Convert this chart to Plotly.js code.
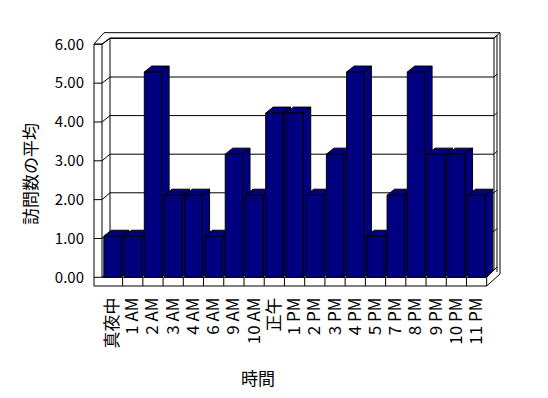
<!DOCTYPE html>
<html>
<head>
<meta charset="utf-8">
<script src="https://cdn.plot.ly/plotly-3.0.1.min.js"></script>
<style>html,body{margin:0;padding:0;background:#fff;}#chart{width:548px;height:398px;}</style>
</head>
<body>
<div id="chart"></div>
<script>
// ---- data ----
const categories = ['真夜中','1 AM','2 AM','3 AM','4 AM','6 AM','9 AM','10 AM','正午','1 PM','2 PM','3 PM','4 PM','5 PM','7 PM','8 PM','9 PM','10 PM','11 PM'];
const avgVisits = [1,1,5,2,2,1,3,2,4,4,2,3,5,1,2,5,3,3,2];
const yTicks = [0,1,2,3,4,5,6];
const yTitle = '訪問数の平均';
const xTitle = '時間';

// ---- geometry / style ----
const W = 548, H = 398;
const L = 94, R = 500, T = 30, B = 287;           // plot area in pixels
const FONT = '"Noto Sans CJK JP", "Noto Sans", sans-serif';
const NAVY = '#000080';
const xRange = [-0.9145, 19.155];
const frontZero = 277.3, frontScale = 38.83;      // tick label axis (px/unit)
const barScale = 41.05;                           // bar front faces (px/unit)
const backZero = 270, backScale = 38.6;           // back wall gridlines
const tickRange = [(frontZero - B) / frontScale, (frontZero - T) / frontScale];
const barRange = [(frontZero - B) / barScale, (frontZero - T) / barScale];
const barWidth = 0.855;
const depthX = 7.5 / ((R - L) / (xRange[1] - xRange[0]));
const depthY = 6 / barScale;

const px = x => (x - L) / (R - L);
const py = y => (B - y) / (B - T);
const line = (x0, y0, x1, y1) => ({type: 'line', xref: 'paper', yref: 'paper', layer: 'below',
  x0: px(x0), y0: py(y0), x1: px(x1), y1: py(y1), line: {color: '#000', width: 1}});

const shapes = [];
// back wall gridlines & left wall ticks
yTicks.forEach(v => {
  const yf = frontZero - frontScale * v, yb = backZero - backScale * v;
  shapes.push(line(94, yf, 102, yf));
  shapes.push(line(102, yf, 110, yb));
  shapes.push(line(110, yb, 494, yb));
  shapes.push(line(494, yb, 497, yb - 3));
});
// walls
shapes.push(line(94, 44, 94, 286));
shapes.push(line(102, 44, 102, frontZero));
shapes.push(line(94, 44, 102, 44));
shapes.push(line(94, 44, 104, 32.7));
shapes.push(line(102, 44, 110, 38));
shapes.push(line(104, 32.7, 500, 32.7));
shapes.push(line(110, 38, 494, 38));
shapes.push(line(110, 38, 110, 270));
shapes.push(line(494, 38, 494, 270));
shapes.push(line(494, 38, 500, 32.7));
shapes.push(line(497, 35.5, 497, 272));
shapes.push(line(500, 32.7, 500, 274));
// floor
shapes.push(line(102, frontZero, 486.7, frontZero));
shapes.push(line(94, 286, 486.7, 286));
shapes.push(line(486.7, frontZero, 486.7, 286));
shapes.push(line(486.7, frontZero, 494, 270));
shapes.push(line(486.7, 286, 500, 274));
for (let i = 0; i < categories.length - 1; i++) {
  shapes.push({type: 'line', xref: 'x', yref: 'paper', layer: 'below',
    x0: i + 0.5, x1: i + 0.5, y0: py(frontZero), y1: py(286), line: {color: '#000', width: 1}});
}

// ---- traces ----
const traces = [];
// dummy on base axes so tick-label axis is drawn
traces.push({type: 'scatter', x: [null], y: [null], xaxis: 'x', yaxis: 'y', hoverinfo: 'skip', showlegend: false});
// top + side faces of each bar (y2)
avgVisits.forEach((v, i) => {
  const xl = i - barWidth / 2, xr = i + barWidth / 2;
  traces.push({
    type: 'scatter', mode: 'lines', fill: 'toself', fillcolor: NAVY,
    line: {color: '#000', width: 1},
    x: [xl, xl + depthX, xr + depthX, xr, xl, null, xr, xr + depthX, xr + depthX, xr, xr],
    y: [v, v + depthY, v + depthY, v, v, null, v, v + depthY, depthY, 0, v],
    xaxis: 'x', yaxis: 'y2', hoverinfo: 'skip', showlegend: false
  });
});
// front faces (y3, drawn on top)
traces.push({
  type: 'bar', x: categories.map((c, i) => i), y: avgVisits, width: barWidth,
  marker: {color: NAVY, line: {color: '#000', width: 1}},
  xaxis: 'x', yaxis: 'y3', showlegend: false, textposition: 'none',
  customdata: categories, hovertemplate: '%{customdata}: %{y:.2f}<extra></extra>'
});

const layout = {
  width: W, height: H,
  margin: {l: L, r: W - R, t: T, b: H - B, pad: 0},
  paper_bgcolor: '#fff', plot_bgcolor: 'rgba(0,0,0,0)',
  font: {family: FONT, color: '#000'},
  showlegend: false,
  xaxis: {range: xRange, tickvals: categories.map((c, i) => i), ticktext: categories,
    tickangle: -90, showgrid: false, zeroline: false, showline: false, ticks: '',
    ticklabelstandoff: 6, tickfont: {family: FONT, size: 17, color: '#000'}, fixedrange: true},
  yaxis: {range: tickRange, tickvals: yTicks, tickformat: '.2f', showgrid: false, zeroline: false,
    showline: false, ticks: '', ticklabelstandoff: 9, tickfont: {family: FONT, size: 15, color: '#000'}, fixedrange: true},
  yaxis2: {overlaying: 'y', range: barRange, visible: false, fixedrange: true},
  yaxis3: {overlaying: 'y', range: barRange, visible: false, fixedrange: true},
  shapes: shapes,
  annotations: [
    {text: yTitle, xref: 'paper', yref: 'paper', x: px(29), y: py(174), textangle: -90,
      showarrow: false, font: {family: FONT, size: 17, color: '#000'}, xanchor: 'center', yanchor: 'middle'},
    {text: xTitle, xref: 'paper', yref: 'paper', x: px(258), y: py(377),
      showarrow: false, font: {family: FONT, size: 17, color: '#000'}, xanchor: 'center', yanchor: 'middle'}
  ]
};

Plotly.newPlot('chart', traces, layout, {displayModeBar: false, staticPlot: true});
</script>
</body>
</html>
